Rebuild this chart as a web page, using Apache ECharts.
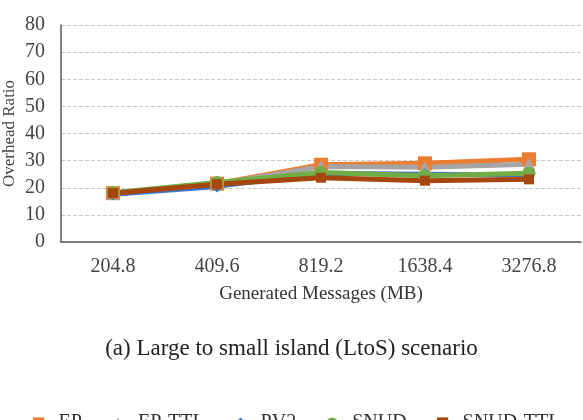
<!DOCTYPE html>
<html>
<head>
<meta charset="utf-8">
<script src="https://cdn.jsdelivr.net/npm/echarts@6/dist/echarts.min.js"></script>
<style>
  html, body { margin: 0; padding: 0; background: #fff; }
  #main { width: 583px; height: 420px; }
</style>
</head>
<body>
<div id="main"></div>
<script>
// data
const categories = ['204.8', '409.6', '819.2', '1638.4', '3276.8'];
const ep = [18, 21.5, 28.5, 29, 30.5];
const epTtl = [18, 21.3, 27.8, 27.6, 28.7];
const pv2 = [17.6, 20.5, 25.3, 25, 24.7];
const snud = [18.2, 21.9, 25.6, 24.4, 25.3];
const snudTtl = [18, 21.3, 23.7, 22.6, 23.1];
const yTicks = [0, 10, 20, 30, 40, 50, 60, 70, 80];

const serif = '"Liberation Serif", "DejaVu Serif", serif';

const chart = echarts.init(document.getElementById('main'));

function line(name, data, color, symbol, size) {
    return {
        name: name,
        type: 'line',
        data: data,
        symbol: symbol,
        symbolSize: size,
        lineStyle: { width: 5, color: color },
        itemStyle: { color: color },
        emphasis: { disabled: true }
    };
}

const option = {
    animation: false,
    grid: { left: 61, right: 2, top: 25, bottom: 178, outerBoundsMode: 'none', containLabel: false },
    legend: {
        top: 408,
        left: 'center',
        itemGap: 20,
        itemWidth: 30,
        itemHeight: 14,
        textStyle: { fontFamily: serif, fontSize: 20, color: '#333' },
        data: ['EP', 'EP-TTL', 'PV2', 'SNUD', 'SNUD-TTL']
    },
    graphic: [{
        type: 'text',
        left: 'center',
        top: 337,
        style: {
            text: '(a) Large to small island (LtoS) scenario',
            font: '23px ' + serif,
            fill: '#222'
        }
    }],
    xAxis: {
        type: 'category',
        data: categories,
        boundaryGap: true,
        name: 'Generated Messages (MB)',
        nameLocation: 'middle',
        nameGap: 43,
        nameMoveOverlap: false,
        nameTextStyle: { fontFamily: serif, fontSize: 19, color: '#333' },
        axisLine: { lineStyle: { color: '#595959', width: 1.5 } },
        axisTick: { alignWithLabel: true, length: 5, lineStyle: { color: '#595959' } },
        axisLabel: { fontFamily: serif, fontSize: 20, color: '#444', margin: 15 }
    },
    yAxis: {
        type: 'value',
        min: yTicks[0],
        max: yTicks[yTicks.length - 1],
        interval: 10,
        name: 'Overhead Ratio',
        nameLocation: 'middle',
        nameGap: 43,
        nameMoveOverlap: false,
        nameTextStyle: { fontFamily: serif, fontSize: 17, color: '#444' },
        axisLine: { show: true, lineStyle: { color: '#595959', width: 1.5 } },
        axisTick: { show: false },
        axisLabel: { fontFamily: serif, fontSize: 20, color: '#444', margin: 16 },
        splitLine: { lineStyle: { color: '#c8c8c8', type: [4, 2] } }
    },
    series: [
        line('EP', ep, '#ED7D31', 'rect', 14),
        line('EP-TTL', epTtl, '#A5A5A5', 'triangle', 13),
        line('PV2', pv2, '#4472C4', 'diamond', 12),
        line('SNUD', snud, '#70AD47', 'circle', 13),
        line('SNUD-TTL', snudTtl, '#A5470E', 'rect', 10)
    ]
};

chart.setOption(option);
</script>
</body>
</html>
